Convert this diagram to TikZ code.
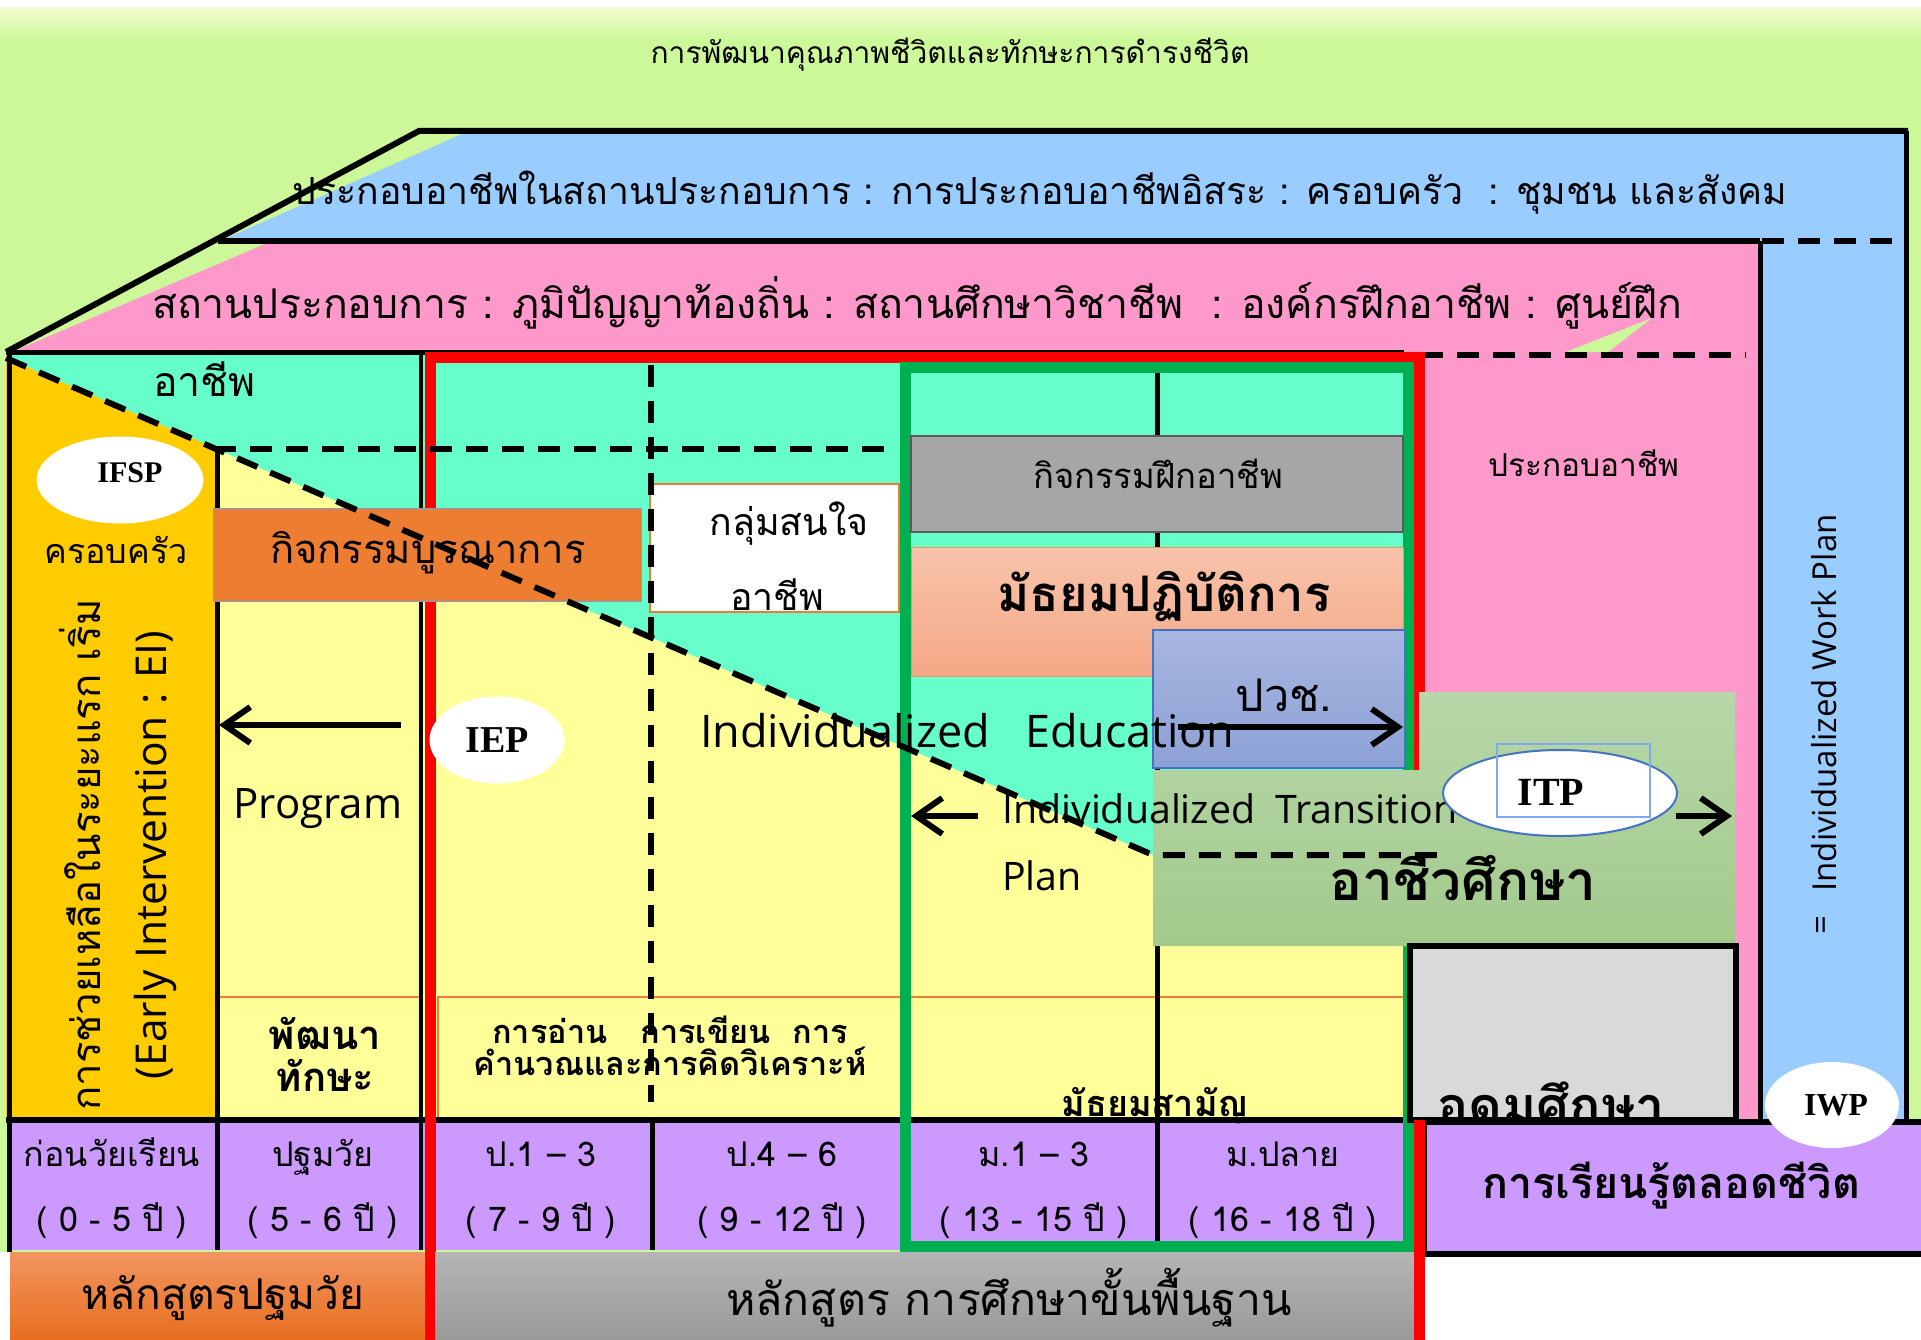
\documentclass[tikz,border=0pt]{standalone}
\usepackage{fontspec}
\setmainfont{Open Sans}
\newfontfamily\thai[Script=Thai]{Loma}
\newfontfamily\serifb{Liberation Serif}
\usetikzlibrary{arrows.meta,shapes.geometric}
\newcommand\tsize[1]{\fontsize{#1}{#1}\selectfont}
\definecolor{bggreen}{HTML}{CCF899}
\definecolor{bgtop}{HTML}{F0FBCF}
\definecolor{bandblue}{HTML}{99CCFF}
\definecolor{bandpink}{HTML}{FF99CC}
\definecolor{mint}{HTML}{66FFCC}
\definecolor{paleyel}{HTML}{FFFF99}
\definecolor{gold}{HTML}{FFCC00}
\definecolor{orng}{HTML}{ED7D31}
\definecolor{grayb}{HTML}{A6A6A6}
\definecolor{purp}{HTML}{CC99FF}
\definecolor{ltgray}{HTML}{D9D9D9}
\definecolor{frgreen}{HTML}{00B050}
\definecolor{salmonT}{HTML}{F8C3AA}
\definecolor{salmonB}{HTML}{F4A887}
\definecolor{pvT}{HTML}{A8B6E0}
\definecolor{pvB}{HTML}{8CA1D6}
\definecolor{vgT}{HTML}{B7D7A8}
\definecolor{vgB}{HTML}{A2CA8C}
\definecolor{boT}{HTML}{F19560}
\definecolor{boB}{HTML}{E86E1E}
\definecolor{bgT}{HTML}{B5B5B5}
\definecolor{bgB}{HTML}{999999}
\definecolor{blueline}{HTML}{4472C4}
\definecolor{ltblue}{HTML}{7FAAF0}
\begin{document}
\begin{tikzpicture}[x=1pt,y=-1pt,
  txt/.style={inner sep=0pt, align=center},
  blk/.style={line width=5pt, black},
  dsh/.style={line width=6pt, black, dash pattern=on 22pt off 14pt},
  arr/.style={line width=6pt, -{Straight Barb[length=26pt,width=36pt]}},
  oval/.style={ellipse, fill=white, inner sep=0pt},
  celltxt/.style={inner sep=0pt, anchor=base, font=\thai\tsize{34}},
  cellbox/.style={inner sep=0pt, minimum height=130pt},
]
\useasboundingbox (0,0) rectangle (1921,1340);
\fill[white] (0,0) rectangle (1921,1340);
% background
\fill[bggreen] (0,8) rectangle (1921,1252);
\shade[top color=bgtop, bottom color=bggreen] (0,8) rectangle (1921,40);
% blue band
\fill[bandblue] (462,134) -- (1906,134) -- (1906,1120) -- (1760,1120) -- (1760,241) -- (220,241) -- cycle;
% pink band
\fill[bandpink] (265,244) -- (1760,244) -- (1760,1120) -- (1421,1120) -- (1421,352) -- (12,352) -- cycle;
\fill[bggreen] (1566,352) -- (1652,318) -- (1608,352) -- cycle;
% mint / yellow / gold
\fill[mint] (8,352) rectangle (1419,1120);
\fill[paleyel] (6,358) -- (1153,855) -- (1419,855) -- (1419,1120) -- (6,1120) -- cycle;
\fill[gold] (6,358) -- (217,449) -- (217,1120) -- (6,1120) -- cycle;
% band lines
\draw[line width=6pt] (6,352) -- (419,131) -- (1908,131);
\draw[blk] (1906,131) -- (1906,1120);
\draw[line width=6pt] (218,241) -- (1760,241);
\draw[dsh] (1762,241) -- (1906,241);
\draw[blk] (1760,241) -- (1760,1120);
\draw[dsh] (1421,355) -- (1746,355);
% band texts
\node[txt, font=\thai\tsize{30}] (title) at (950,55) {การพัฒนาคุณภาพชีวิตและทักษะการดำรงชีวิต};
\node[txt, font=\thai\tsize{37.4}] (band1) at (1040,193) {ประกอบอาชีพในสถานประกอบการ : การประกอบอาชีพอิสระ : ครอบครัว~ : ชุมชน และสังคม};
\node[txt, font=\thai\tsize{41}] (band2) at (917,303) {สถานประกอบการ : ภูมิปัญญาท้องถิ่น : สถานศึกษาวิชาชีพ~ : องค์กรฝึกอาชีพ : ศูนย์ฝึก};
\node[txt, font=\thai\tsize{41}, anchor=west] (band2b) at (153,379) {อาชีพ};
\node[txt, font=\thai\tsize{31.6}] (occ) at (1584,463) {ประกอบอาชีพ};
% skill boxes
\node[draw=orng, line width=2pt, fill=paleyel, minimum width=205pt, minimum height=123pt, inner sep=0pt] (skillA) at (319.5,1058.5) {};
\node[txt, font=\thai\bfseries\tsize{40}] (skillAt) at (325,1054) {พัฒนา\\[2pt]ทักษะ};
\node[draw=orng, line width=2pt, fill=paleyel, minimum width=464pt, minimum height=123pt, inner sep=0pt] (skillB) at (670,1058.5) {};
\node[txt, font=\thai\bfseries\tsize{32.5}] (skillBt) at (670,1046) {การอ่าน~~ การเขียน~ การ\\คำนวณและการคิดวิเคราะห์};
\node[draw=orng, line width=2pt, fill=paleyel, minimum width=500pt, minimum height=123pt, inner sep=0pt] (skillC) at (1155,1058.5) {};
% purple row
\fill[purp] (8,1120) rectangle (1409,1250);
\node[cellbox, minimum width=209pt] (c1) at (112,1185) {};
\node[cellbox, minimum width=205pt] (c2) at (320,1185) {};
\node[cellbox, minimum width=217pt] (c3) at (543,1185) {};
\node[cellbox, minimum width=253pt] (c4) at (778,1185) {};
\node[cellbox, minimum width=252pt] (c5) at (1031,1185) {};
\node[cellbox, minimum width=252pt] (c6) at (1283,1185) {};
\node[celltxt] (c1a) at (112,1166) {ก่อนวัยเรียน};
\node[celltxt] (c1b) at (112,1231) {( 0 - 5 ปี )};
\node[celltxt] (c2a) at (323,1166) {ปฐมวัย};
\node[celltxt] (c2b) at (323,1231) {( 5 - 6 ปี )};
\node[celltxt] (c3a) at (541,1166) {ป.1 – 3};
\node[celltxt] (c3b) at (541,1231) {( 7 - 9 ปี )};
\node[celltxt] (c4a) at (782,1166) {ป.4 – 6};
\node[celltxt] (c4b) at (782,1231) {( 9 - 12 ปี )};
\node[celltxt] (c5a) at (1034,1166) {ม.1 – 3};
\node[celltxt] (c5b) at (1034,1231) {( 13 - 15 ปี )};
\node[celltxt] (c6a) at (1283,1166) {ม.ปลาย};
\node[celltxt] (c6b) at (1283,1231) {( 16 - 18 ปี )};
% black separators
\draw[blk] (9,352) -- (9,1252);
\draw[blk] (217,449) -- (217,1250);
\draw[line width=4pt] (421,352) -- (421,1250);
\draw[blk] (6,352) -- (1404,352);
\draw[blk] (652,1120) -- (652,1250);
\draw[blk] (1157,367) -- (1157,1246);
\draw[line width=6pt] (6,1120) -- (1409,1120);
% frames
\draw[red, line width=11pt] (430,1340) -- (430,357) -- (1419,357) -- (1419,1340);
\draw[frgreen, line width=11pt] (905,367) rectangle (1408,1246);
% boxes
\node[draw=black!65, line width=2pt, fill=grayb, minimum width=492pt, minimum height=96pt, inner sep=0pt] (train) at (1157,484) {};
\node[txt, font=\thai\tsize{34.6}] (traint) at (1158,474) {กิจกรรมฝึกอาชีพ};
\shade[top color=salmonT, bottom color=salmonB, draw=orng!80, line width=1pt] (911,547) rectangle (1403,676);
\node[inner sep=0pt, minimum width=492pt, minimum height=129pt] (prac) at (1157,611.5) {};
\node[txt, font=\thai\bfseries\tsize{49}] (pract) at (1164,597) {มัธยมปฏิบัติการ};
\shade[top color=pvT, bottom color=pvB, draw=blueline, line width=1.5pt] (1153,630) rectangle (1405,768);
\node[inner sep=0pt, minimum width=252pt, minimum height=138pt] (pvc) at (1279,699) {};
\node[txt, font=\thai\tsize{45}] (pvct) at (1284,695) {ปวช.};
\node[draw=orng, line width=2pt, fill=white, minimum width=249pt, minimum height=128pt, inner sep=0pt] (interest) at (774.5,548) {};
\node[txt, font=\thai\tsize{37.5}] (interestA) at (789,524) {กลุ่มสนใจ};
\node[txt, font=\thai\tsize{37.5}] (interestB) at (777,595) {อาชีพ};
\node[draw=blueline!70, line width=1pt, fill=orng, minimum width=428pt, minimum height=93pt, inner sep=0pt] (integ) at (427,554.5) {};
\node[txt, font=\thai\tsize{40}] (integt) at (428,553) {กิจกรรมบูรณาการ};
\shade[top color=vgT, bottom color=vgB] (1153,770) -- (1419,770) -- (1419,692) -- (1735,692) -- (1735,946) -- (1153,946) -- cycle;
\node[txt, font=\thai\bfseries\tsize{55}] (voc) at (1463,877) {อาชีวศึกษา};
\node[draw=black, line width=6pt, fill=ltgray, minimum width=326pt, minimum height=174pt, inner sep=0pt] (higher) at (1573,1033) {};
\node[txt, font=\thai\bfseries\tsize{52}] (highert) at (1551,1110) {อุดมศึกษา};
\node[draw=black, line width=6pt, fill=purp, minimum width=500pt, minimum height=132pt, inner sep=0pt] (life) at (1674,1188) {};
\node[txt, font=\thai\bfseries\tsize{43}] (lifet) at (1671,1186) {การเรียนรู้ตลอดชีวิต};
\shade[top color=boT, bottom color=boB] (10,1252) rectangle (425,1340);
\node[inner sep=0pt, minimum width=415pt, minimum height=88pt] (cur1) at (217.5,1296) {};
\node[txt, font=\thai\tsize{42.5}] (cur1t) at (223,1298) {หลักสูตรปฐมวัย};
\shade[top color=bgT, bottom color=bgB] (435,1252) rectangle (1414,1340);
\node[inner sep=0pt, minimum width=979pt, minimum height=88pt] (cur2) at (924.5,1296) {};
\node[txt, font=\thai\tsize{44.6}] (cur2t) at (1009,1298) {หลักสูตร การศึกษาขั้นพื้นฐาน};
\draw[red, line width=11pt] (1419,1120) -- (1419,1340);
\node[txt, font=\thai\bfseries\tsize{36}] (sec) at (1155,1106) {มัธยมสามัญ};
% dashed lines
\draw[dsh] (6,358) -- (1153,855) -- (1445,855);
\draw[dsh] (214,449) -- (898,449);
\draw[dsh] (651,365) -- (651,1102);
% texts
\node[txt, font=\tsize{45}] (iedu) at (967,731) {Individualized~~ Education};
\node[txt, font=\tsize{42}] (prog) at (318,809) {Program};
\node[txt, font=\tsize{39.3}, anchor=west] (itpa) at (1002,809) {Individualized~ Transition};
\node[txt, font=\tsize{39.3}, anchor=west] (itpb) at (1002,876) {Plan};
\node[txt, font=\thai\tsize{34}] (fam) at (116,550) {ครอบครัว};
\node[txt, font=\thai\tsize{40}, rotate=90] (ei1) at (80,855) {การช่วยเหลือในระยะแรก เริ่ม};
\node[txt, font=\tsize{42.5}, rotate=90] (ei2) at (155,855) {(Early Intervention : EI)};
\node[txt, font=\tsize{33}, rotate=90] (iwpt) at (1824,703) {Individualized Work Plan};
\node[txt, font=\tsize{33}, rotate=90] (iwpeq) at (1824,925) {=};
% ellipses
\node[oval, minimum width=167pt, minimum height=87pt] (ifsp) at (120,480) {};
\node[txt, font=\serifb\bfseries\tsize{30}] (ifspt) at (130,473) {IFSP};
\node[oval, minimum width=135pt, minimum height=87pt] (iep) at (497,740) {};
\node[txt, font=\serifb\bfseries\tsize{38}] (iept) at (497,740) {IEP};
\node[oval, draw=blueline, line width=2pt, minimum width=234pt, minimum height=86pt] (itp) at (1560,793) {};
\node[draw=ltblue, line width=1.5pt, minimum width=153pt, minimum height=73pt, inner sep=0pt] (itpbox) at (1573.5,780.5) {};
\node[txt, font=\serifb\bfseries\tsize{40}] (itpt) at (1551,792) {ITP};
\node[oval, minimum width=134pt, minimum height=86pt] (iwp) at (1832,1105) {};
\node[txt, font=\serifb\bfseries\tsize{32}] (iwpl) at (1836,1105) {IWP};
% arrows
\coordinate (pa1) at (401,725);
\coordinate (pa2) at (219,725);
\draw[arr] (pa1) -- (pa2);
\coordinate (pv1) at (1178,727);
\coordinate (pv2) at (1403,727);
\draw[arr] (pv1) -- (pv2);
\coordinate (tl1) at (978,816);
\coordinate (tl2) at (911,816);
\draw[arr] (tl1) -- (tl2);
\coordinate (tr1) at (1676,816);
\coordinate (tr2) at (1732,816);
\draw[arr] (tr1) -- (tr2);
\end{tikzpicture}
\end{document}
